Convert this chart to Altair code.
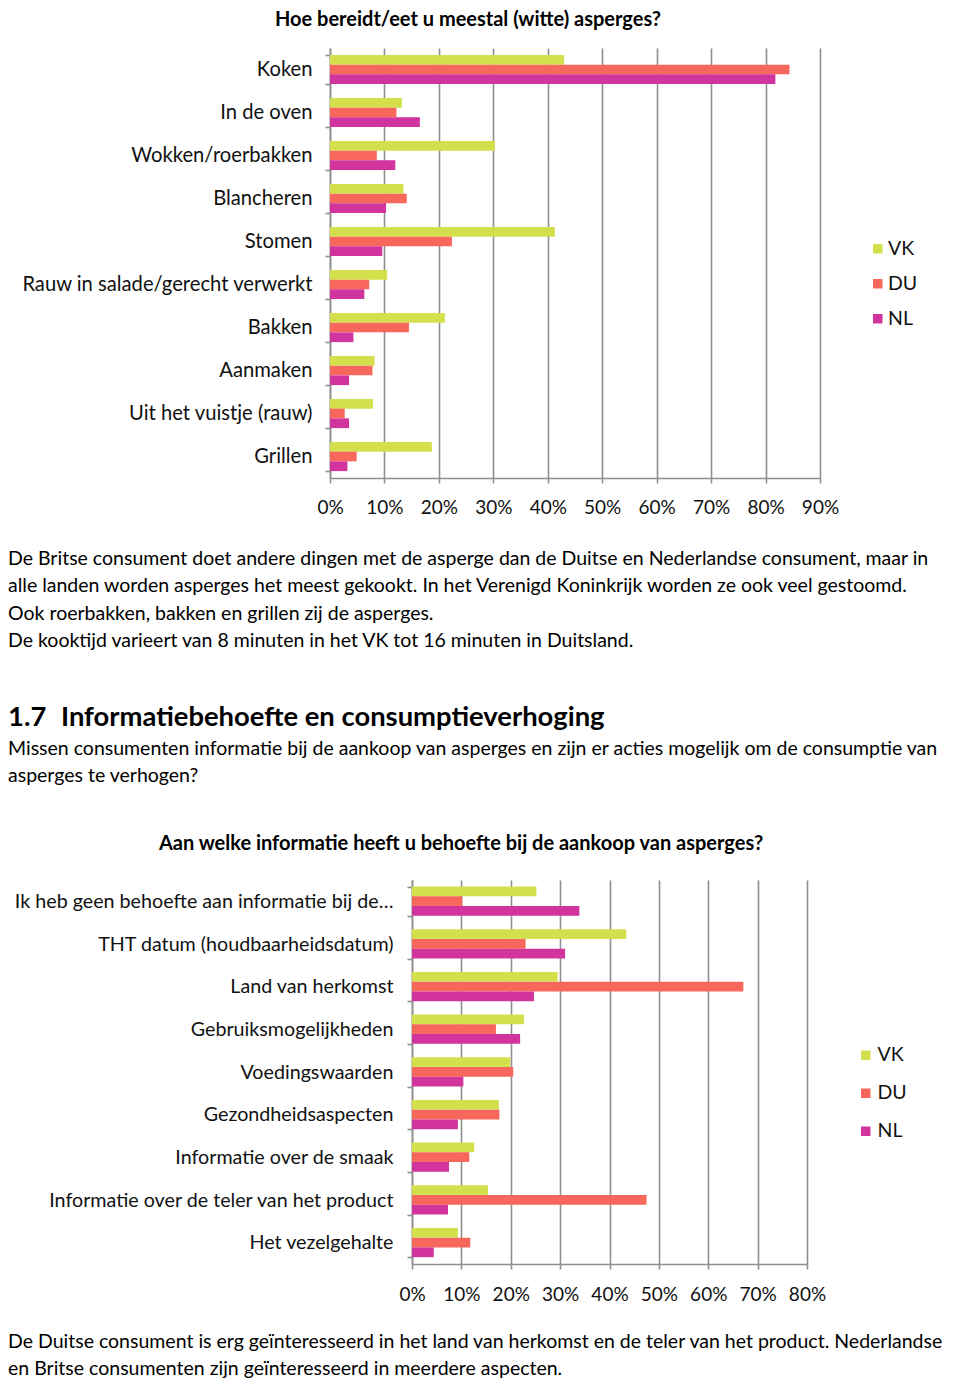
import altair as alt
import pandas as pd

FONT = "Lato"
GRID = "#8f8f8f"
TXT = "#111111"

countries = ["VK", "DU", "NL"]
colors = ["#d4e04b", "#f8675c", "#d2349d"]

methods = ["Koken", "In de oven", "Wokken/roerbakken", "Blancheren", "Stomen",
           "Rauw in salade/gerecht verwerkt", "Bakken", "Aanmaken",
           "Uit het vuistje (rauw)", "Grillen"]
prep_vk = [43.0, 13.2, 30.3, 13.5, 41.3, 10.5, 21.1, 8.2, 7.9, 18.7]
prep_du = [84.4, 12.2, 8.6, 14.1, 22.4, 7.2, 14.5, 7.8, 2.7, 4.9]
prep_nl = [81.8, 16.5, 12.0, 10.3, 9.6, 6.3, 4.3, 3.5, 3.5, 3.2]
prep_ticks = [0, 10, 20, 30, 40, 50, 60, 70, 80, 90]

info = ["Ik heb geen behoefte aan informatie bij de…", "THT datum (houdbaarheidsdatum)",
        "Land van herkomst", "Gebruiksmogelijkheden", "Voedingswaarden",
        "Gezondheidsaspecten", "Informatie over de smaak",
        "Informatie over de teler van het product", "Het vezelgehalte"]
info_vk = [25.2, 43.4, 29.5, 22.7, 19.9, 17.6, 12.6, 15.4, 9.3]
info_du = [10.2, 23.0, 67.1, 17.0, 20.5, 17.7, 11.6, 47.5, 11.8]
info_nl = [33.9, 31.0, 24.7, 21.9, 10.4, 9.3, 7.5, 7.3, 4.4]
info_ticks = [0, 10, 20, 30, 40, 50, 60, 70, 80]

title1 = "Hoe bereidt/eet u meestal (witte) asperges?"
title2 = "Aan welke informatie heeft u behoefte bij de aankoop van asperges?"
para1 = ("De Britse consument doet andere dingen met de asperge dan de Duitse en Nederlandse consument, maar in\n"
         "alle landen worden asperges het meest gekookt. In het Verenigd Koninkrijk worden ze ook veel gestoomd.\n"
         "Ook roerbakken, bakken en grillen zij de asperges.\n"
         "De kooktijd varieert van 8 minuten in het VK tot 16 minuten in Duitsland.")
head_num = "1.7"
head_txt = "Informatiebehoefte en consumptieverhoging"
para2 = ("Missen consumenten informatie bij de aankoop van asperges en zijn er acties mogelijk om de consumptie van\n"
         "asperges te verhogen?")
para3 = ("De Duitse consument is erg geïnteresseerd in het land van herkomst en de teler van het product. Nederlandse\n"
         "en Britse consumenten zijn geïnteresseerd in meerdere aspecten.")

W = 944
PARA = 19.5


def long_df(cats, vk, du, nl):
    rows = []
    for c, a, b, d in zip(cats, vk, du, nl):
        rows += [{"cat": c, "land": "VK", "v": a},
                 {"cat": c, "land": "DU", "v": b},
                 {"cat": c, "land": "NL", "v": d}]
    return pd.DataFrame(rows)


def bar_chart(cats, vk, du, nl, ticks, x0, x1, height, lx, ly, rowpad, loff, pin, xlp, ylp, yfs):
    df = long_df(cats, vk, du, nl)
    return alt.Chart(df).mark_bar().encode(
        x=alt.X("v:Q",
                scale=alt.Scale(domain=[ticks[0], ticks[-1]], range=[x0, x1], nice=False, zero=True),
                axis=alt.Axis(values=ticks, labelExpr="datum.value + '%'", title=None,
                              grid=True, gridColor=GRID, gridWidth=1.6,
                              domainColor=GRID, domainWidth=1.6,
                              tickColor=GRID, tickWidth=1.6, tickSize=5,
                              labelFont=FONT, labelFontSize=19, labelColor=TXT,
                              labelPadding=xlp, labelFlush=False)),
        y=alt.Y("cat:N", sort=cats,
                scale=alt.Scale(paddingInner=pin, paddingOuter=pin / 2),
                axis=alt.Axis(title=None, offset=-x0, tickBand="extent",
                              domainColor=GRID, domainWidth=1.6,
                              tickColor=GRID, tickWidth=1.6, tickSize=5,
                              labelFont=FONT, labelFontSize=yfs, labelColor=TXT,
                              labelPadding=ylp, labelLimit=500)),
        yOffset=alt.YOffset("land:N", sort=countries,
                            scale=alt.Scale(paddingInner=0, paddingOuter=0)),
        color=alt.Color("land:N", sort=countries,
                        scale=alt.Scale(domain=countries, range=colors),
                        legend=alt.Legend(orient="none", legendX=lx, legendY=ly, title=None,
                                          symbolType="square", symbolSize=90,
                                          symbolStrokeWidth=0, labelFont=FONT,
                                          labelFontSize=19.5, labelColor=TXT,
                                          rowPadding=rowpad, labelOffset=loff, padding=0)),
    ).properties(width=W, height=height)


def txt(s, x, y, size, bold=False, align="left", lh=27.4):
    return alt.Chart(pd.DataFrame({"t": [s]})).mark_text(
        align=align, baseline="alphabetic", font=FONT, fontSize=size,
        fontWeight="bold" if bold else "normal", lineBreak="\n", lineHeight=lh,
        color="#000000",
    ).encode(x=alt.value(x), y=alt.value(y), text="t:N")


row1 = alt.layer(txt(title1, 460, 18, 20, bold=True, align="center")).properties(width=W, height=40)

row2 = bar_chart(methods, prep_vk, prep_du, prep_nl, prep_ticks, 322, 812, 430,
                 860, 191, 14, 0.5, 0.32, 15, 13, 20.2)

row3 = alt.layer(
    txt(para1, 0, 87, PARA, lh=27.4),
    txt(head_num, 0, 248, 27.4, bold=True),
    txt(head_txt, 53, 248, 27.4, bold=True),
    txt(para2, 0, 277, PARA, lh=27),
    txt(title2, 453, 372, 20, bold=True, align="center"),
).properties(width=W, height=402)

row4 = bar_chart(info, info_vk, info_du, info_nl, info_ticks, 404, 799, 384,
                 848, 165.5, 17, 2, 0.31, 16, 14, 19.7)

row5 = alt.layer(txt(para3, 0, 84, PARA, lh=27)).properties(width=W, height=108)

chart = alt.vconcat(row1, row2, row3, row4, row5, spacing=0, bounds="flush").properties(
    padding=0
).configure_view(strokeWidth=0).resolve_scale(color="independent", x="independent", y="independent")

chart.save("out.html", embed_options={"renderer": "svg", "actions": False})
